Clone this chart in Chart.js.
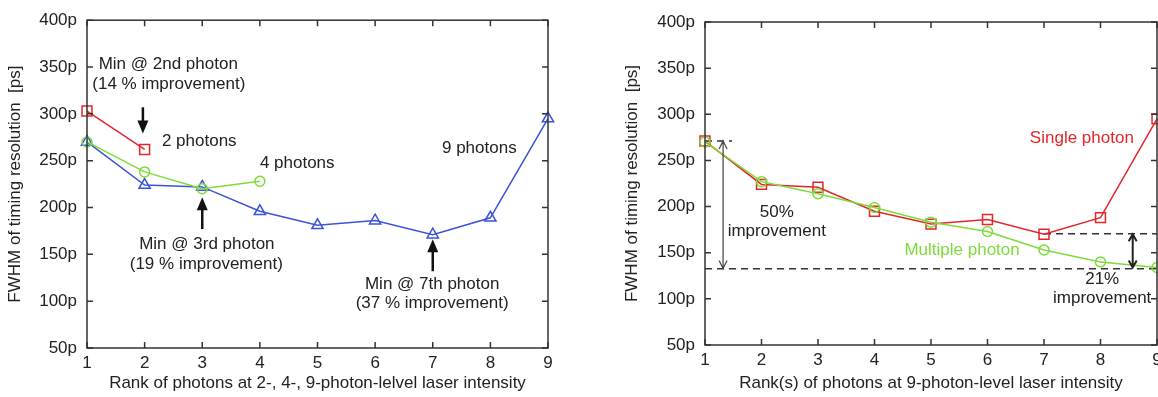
<!DOCTYPE html>
<html><head><meta charset="utf-8">
<script src="https://cdn.jsdelivr.net/npm/chart.js@4"></script>
<style>
html,body{margin:0;padding:0;background:#fff;overflow:hidden;width:1158px;height:397px;}
canvas{position:absolute;top:0;}
</style></head>
<body>
<canvas id="c1" width="570" height="397" style="left:0;width:570px;height:397px"></canvas>
<canvas id="c2" width="600" height="397" style="left:580px;width:600px;height:397px"></canvas>
<script>
// ---- data ----
const ranks = [1, 2, 3, 4, 5, 6, 7, 8, 9];
const yTicks = [50, 100, 150, 200, 250, 300, 350, 400];
const left2photons = [303, 262];
const left4photons = [270, 238, 220, 228];
const left9photons = [270, 224, 222, 196, 181, 186, 171, 189, 295];
const rightSingle = [271, 224, 221, 195, 181, 186, 170, 188, 295];
const rightMultiple = [270, 227, 214, 199, 183, 173, 153, 140, 134];
const refLineTopX = [1, 1.48], refLineTopY = [271, 271];
const refLineLowX = [1, 9], refLineLowY = [132.5, 132.5];
const refLineMidX = [7, 9], refLineMidY = [170.5, 170.5];

const FONT = '"Liberation Sans", Arial, Helvetica, sans-serif';
const FS = 17;
const RED = '#e3262c', GREEN = '#7edc3a', BLUE = '#3c52d9', INK = '#222';
Chart.defaults.font.family = FONT;
Chart.defaults.font.size = FS;
Chart.defaults.color = INK;

const pts = (xs, ys) => ys.map((v, i) => ({x: xs[i], y: v}));

function series(label, xs, ys, color, style, r) {
  return {label, data: pts(xs, ys), borderColor: color, backgroundColor: 'rgba(0,0,0,0)',
    borderWidth: 1.5, pointStyle: style, pointRadius: r, pointHoverRadius: r,
    pointBorderWidth: 1.5, pointBorderColor: color, pointBackgroundColor: 'rgba(0,0,0,0)',
    tension: 0, clip: false, order: 1};
}
function dashed(xs, ys) {
  return {label: 'ref', data: pts(xs, ys), borderColor: '#333', borderWidth: 1.5,
    borderDash: [7, 5], pointRadius: 0, tension: 0, clip: false, order: 2};
}

const framePlugin = {
  id: 'frame',
  afterDatasetsDraw(chart) {
    const {ctx, chartArea: a, scales: {x, y}} = chart;
    ctx.save();
    ctx.strokeStyle = '#333';
    ctx.lineWidth = 1.5;
    ctx.strokeRect(a.left, a.top, a.right - a.left, a.bottom - a.top);
    ctx.beginPath();
    const L = 6;
    x.ticks.forEach(t => {
      const px = x.getPixelForValue(t.value);
      ctx.moveTo(px, a.bottom); ctx.lineTo(px, a.bottom - L);
      ctx.moveTo(px, a.top); ctx.lineTo(px, a.top + L);
    });
    y.ticks.forEach(t => {
      const py = y.getPixelForValue(t.value);
      ctx.moveTo(a.left, py); ctx.lineTo(a.left + L, py);
      ctx.moveTo(a.right, py); ctx.lineTo(a.right - L, py);
    });
    ctx.stroke();
    ctx.restore();
  }
};

const notesPlugin = {
  id: 'notes',
  afterDatasetsDraw(chart, args, opts) {
    const {ctx, scales: {x, y}} = chart;
    ctx.save();
    (opts.texts || []).forEach(n => {
      ctx.font = FS + 'px ' + FONT;
      ctx.fillStyle = n.color || INK;
      ctx.textAlign = n.align || 'center';
      ctx.textBaseline = 'middle';
      ctx.fillText(n.text, x.getPixelForValue(n.x), y.getPixelForValue(n.y));
    });
    (opts.filledArrows || []).forEach(a => {
      const x1 = x.getPixelForValue(a.x1), y1 = y.getPixelForValue(a.y1);
      const x2 = x.getPixelForValue(a.x2), y2 = y.getPixelForValue(a.y2);
      const dir = Math.sign(y2 - y1), head = 13, hw = 5.5;
      ctx.strokeStyle = '#111'; ctx.fillStyle = '#111'; ctx.lineWidth = 2.5;
      ctx.beginPath(); ctx.moveTo(x1, y1); ctx.lineTo(x2, y2 - dir * head * 0.8); ctx.stroke();
      ctx.beginPath(); ctx.moveTo(x2, y2); ctx.lineTo(x2 - hw, y2 - dir * head);
      ctx.lineTo(x2 + hw, y2 - dir * head); ctx.closePath(); ctx.fill();
    });
    (opts.doubleArrows || []).forEach(a => {
      const px = x.getPixelForValue(a.x);
      const yt = y.getPixelForValue(a.y1), yb = y.getPixelForValue(a.y2);
      ctx.strokeStyle = a.color || '#333'; ctx.lineWidth = a.width || 1.2;
      const h = a.head || 8, w = a.hw || 4;
      ctx.beginPath();
      ctx.moveTo(px, yt); ctx.lineTo(px, yb);
      ctx.moveTo(px - w, yt + h); ctx.lineTo(px, yt); ctx.lineTo(px + w, yt + h);
      ctx.moveTo(px - w, yb - h); ctx.lineTo(px, yb); ctx.lineTo(px + w, yb - h);
      ctx.stroke();
    });
    ctx.restore();
  }
};

function scalesCfg(yWidth, xHeight, yTitlePad, xTitle) {
  return {
    x: {type: 'linear', min: 1, max: 9,
      afterBuildTicks: s => { s.ticks = ranks.map(v => ({value: v})); },
      ticks: {padding: 5, color: INK, font: {size: FS}},
      grid: {display: false, drawTicks: false}, border: {display: false},
      title: {display: true, text: xTitle, color: INK, font: {size: FS}, padding: {top: 0, bottom: 3}},
      afterFit: s => { s.height = xHeight; }},
    y: {type: 'linear', min: 50, max: 400,
      afterBuildTicks: s => { s.ticks = yTicks.map(v => ({value: v})); },
      ticks: {padding: 10, color: INK, font: {size: FS}, callback: v => v + 'p'},
      grid: {display: false, drawTicks: false}, border: {display: false},
      title: {display: true, text: 'FWHM of timing resolution  [ps]', color: INK, font: {size: FS}, padding: {top: yTitlePad, bottom: 0}},
      afterFit: s => { s.width = yWidth; }}
  };
}

new Chart(document.getElementById('c1'), {
  type: 'line',
  data: {datasets: [
    series('2 photons', ranks, left2photons, RED, 'rect', 7),
    series('4 photons', ranks, left4photons, GREEN, 'circle', 5),
    series('9 photons', ranks, left9photons, BLUE, 'triangle', 6.5)
  ]},
  options: {
    responsive: false, animation: false, devicePixelRatio: 1,
    layout: {padding: {left: 0, right: 22, top: 15, bottom: 0}},
    scales: scalesCfg(87, 49, 5, 'Rank of photons at 2-, 4-, 9-photon-lelvel laser intensity'),
    plugins: {
      legend: {display: false}, tooltip: {enabled: false},
      notes: {
        texts: [
          {text: 'Min @ 2nd photon', x: 2.41, y: 352.7},
          {text: '(14 % improvement)', x: 2.42, y: 331.7},
          {text: '2 photons', x: 2.30, y: 270.8, align: 'left'},
          {text: '4 photons', x: 4.0, y: 247.5, align: 'left'},
          {text: '9 photons', x: 7.16, y: 263.5, align: 'left'},
          {text: 'Min @ 3rd photon', x: 3.08, y: 160.5},
          {text: '(19 % improvement)', x: 3.07, y: 139.5},
          {text: 'Min @ 7th photon', x: 6.99, y: 118.5},
          {text: '(37 % improvement)', x: 6.99, y: 97.5}
        ],
        filledArrows: [
          {x1: 1.97, y1: 307, x2: 1.97, y2: 279},
          {x1: 3, y1: 177, x2: 3, y2: 211},
          {x1: 7, y1: 132, x2: 7, y2: 166}
        ]
      }
    }
  },
  plugins: [framePlugin, notesPlugin]
});

new Chart(document.getElementById('c2'), {
  type: 'line',
  data: {datasets: [
    dashed(refLineTopX, refLineTopY),
    dashed(refLineLowX, refLineLowY),
    dashed(refLineMidX, refLineMidY),
    series('Multiple photon', ranks, rightMultiple, GREEN, 'circle', 5),
    series('Single photon', ranks, rightSingle, RED, 'rect', 7)
  ]},
  options: {
    responsive: false, animation: false, devicePixelRatio: 1,
    layout: {padding: {left: 0, right: 23, top: 22, bottom: 0}},
    scales: scalesCfg(125, 52, 42, 'Rank(s) of photons at 9-photon-level laser intensity'),
    plugins: {
      legend: {display: false}, tooltip: {enabled: false},
      notes: {
        texts: [
          {text: 'Single photon', x: 7.67, y: 274.3, color: RED},
          {text: 'Multiple photon', x: 5.55, y: 153, color: GREEN},
          {text: '50%', x: 2.27, y: 194},
          {text: 'improvement', x: 2.27, y: 173.5},
          {text: '21%', x: 8.03, y: 121.5},
          {text: 'improvement', x: 8.03, y: 101}
        ],
        doubleArrows: [
          {x: 1.32, y1: 271, y2: 133, width: 1.2, color: '#444'},
          {x: 8.57, y1: 170, y2: 134, width: 2, color: '#222', head: 7, hw: 4}
        ]
      }
    }
  },
  plugins: [framePlugin, notesPlugin]
});
</script>
</body></html>
